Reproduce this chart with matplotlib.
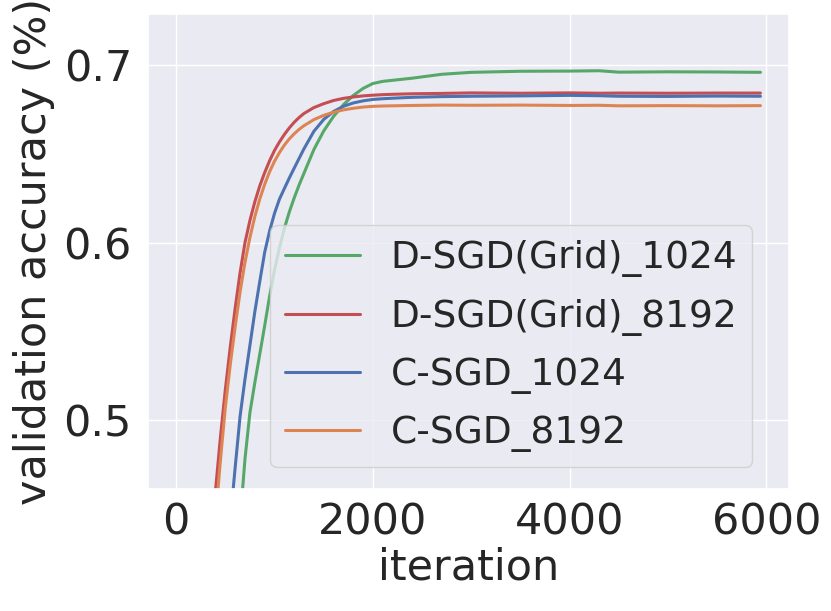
import matplotlib
matplotlib.use("Agg")
import matplotlib.pyplot as plt
import seaborn as sns

sns.set_theme(style="darkgrid")
plt.rcParams['font.family'] = ['DejaVu Sans']

# iterations at which validation accuracy was read
iters = [300, 350, 400, 450, 500, 550, 600, 650, 700, 750, 800, 850, 900, 950,
         1000, 1050, 1100, 1150, 1200, 1250, 1300, 1400, 1500, 1600, 1700,
         1800, 1900, 2000, 2100, 2200, 2400, 2700, 3000, 3500, 4000, 4300,
         4500, 5000, 5500, 5940]

dsgd_1024 = [0.15, 0.20, 0.25, 0.29, 0.32, 0.36, 0.395, 0.443, 0.478, 0.504,
             0.521, 0.537, 0.553, 0.5697, 0.5845, 0.5970, 0.6080, 0.6172, 0.6252,
             0.6325, 0.6392, 0.6525, 0.6630, 0.6712, 0.6778, 0.6830, 0.6870,
             0.6898, 0.6910, 0.6916, 0.6928, 0.6950, 0.6961, 0.6967, 0.6968,
             0.6970, 0.6962, 0.6964, 0.6963, 0.6961]
dsgd_8192 = [0.385, 0.425, 0.460, 0.490, 0.517, 0.541, 0.563, 0.583, 0.600,
             0.6125, 0.6230, 0.6320, 0.6395, 0.6462, 0.6520, 0.6568, 0.6610,
             0.6647, 0.6679, 0.6706, 0.6729, 0.6762, 0.6784, 0.6802, 0.6814,
             0.6822, 0.6828, 0.6832, 0.6835, 0.6837, 0.6840, 0.6842, 0.6845,
             0.6843, 0.6845, 0.6843, 0.6844, 0.6843, 0.6844, 0.6844]
csgd_1024 = [0.26, 0.30, 0.34, 0.38, 0.412, 0.443, 0.473, 0.502, 0.523, 0.542,
             0.561, 0.578, 0.5945, 0.6065, 0.6165, 0.6245, 0.6305, 0.6364, 0.6420,
             0.6475, 0.6530, 0.6628, 0.6695, 0.6740, 0.6769, 0.6788, 0.6800,
             0.6808, 0.6812, 0.6815, 0.6820, 0.6824, 0.6826, 0.6828, 0.6831,
             0.6829, 0.6826, 0.6825, 0.6827, 0.6826]
csgd_8192 = [0.37, 0.41, 0.444, 0.477, 0.507, 0.531, 0.5525, 0.5722, 0.5889,
             0.6029, 0.6147, 0.6246, 0.6329, 0.6400, 0.6459, 0.6508, 0.6550,
             0.6585, 0.6614, 0.6639, 0.6660, 0.6694, 0.6718, 0.6736, 0.6749,
             0.6758, 0.6765, 0.6769, 0.6771, 0.6772, 0.6774, 0.6776, 0.6775,
             0.6776, 0.6774, 0.6775, 0.6772, 0.6773, 0.6772, 0.6773]

labels = ["D-SGD(Grid)_1024", "D-SGD(Grid)_8192", "C-SGD_1024", "C-SGD_8192"]
series = [dsgd_1024, dsgd_8192, csgd_1024, csgd_8192]
colors = ["#55A868", "#C44E52", "#4C72B0", "#DD8452"]

fig, ax = plt.subplots(figsize=(8.31, 6.11), dpi=100)
fig.subplots_adjust(left=0.178, right=0.950, top=0.977, bottom=0.200)

for acc, lab, col in zip(series, labels, colors):
    ax.plot(iters, acc, color=col, lw=2.2, label=lab)

ax.set_xlim(-287, 6235)
ax.set_ylim(0.461, 0.729)
ax.set_xticks([0, 2000, 4000, 6000])
ax.set_yticks([0.5, 0.6, 0.7])
ax.set_yticklabels(["0.5", "0.6", "0.7"])
ax.tick_params(labelsize=31, colors='.15')
ax.tick_params(axis='y', pad=5.5)
ax.set_xlabel("iteration", fontsize=31, labelpad=2)
ax.set_ylabel("validation accuracy (%)", fontsize=31, labelpad=6)

ax.legend(loc="lower left", bbox_to_anchor=(0.191, 0.045), borderaxespad=0,
          fontsize=27, labelspacing=0.57)

fig.savefig("out.png", dpi=100)
